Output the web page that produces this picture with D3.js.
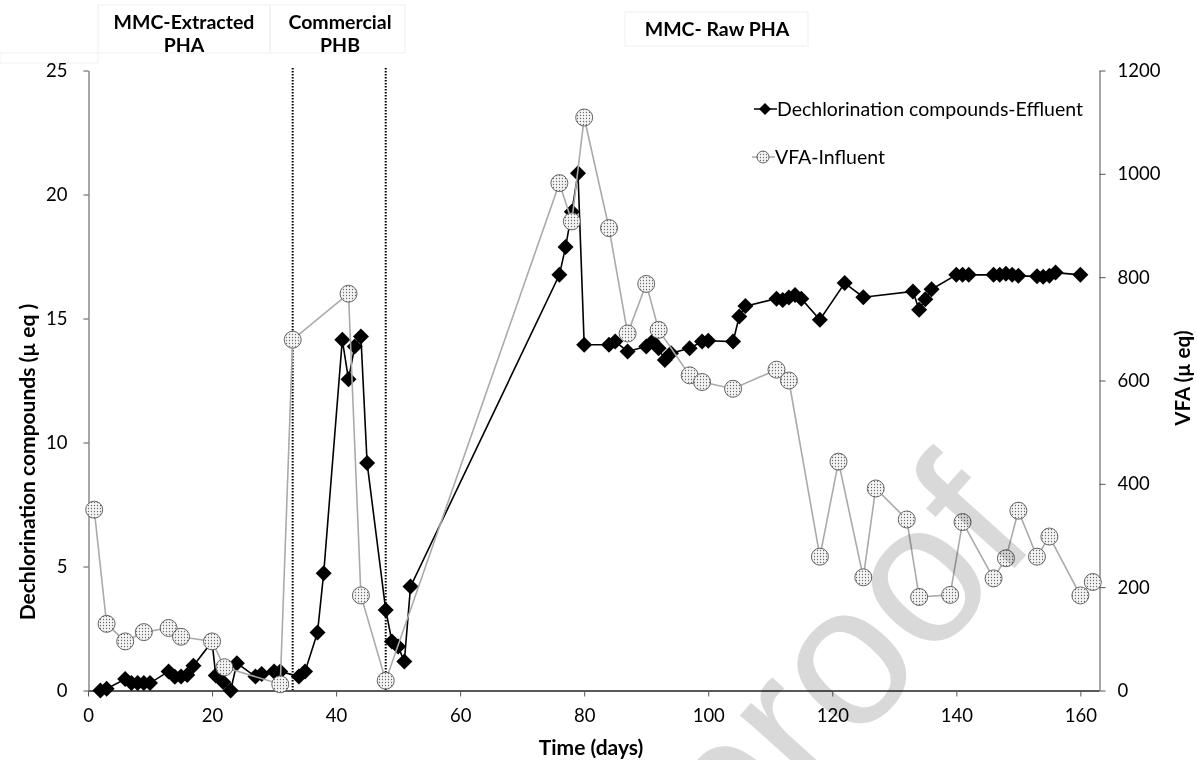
<!DOCTYPE html>
<html>
<head>
<meta charset="utf-8">
<script src="https://cdn.jsdelivr.net/npm/d3@7"></script>
<style>
  body { margin: 0; background: #fff; }
  svg { display: block; }
</style>
</head>
<body>
<svg id="chart" width="1197" height="760"></svg>
<script>
// Dechlorination compounds - effluent (left axis, µ eq)
var dechlorDays = [2, 3, 6, 7, 8, 9, 10, 13, 14, 15, 16, 17, 20, 20.6, 21.8, 23, 24, 27, 28, 30, 31,
  34, 35, 37, 38, 41, 42, 43, 44, 45, 48, 49, 50, 51, 52,
  76, 77, 78, 79, 80, 84, 85, 87, 90, 91, 92, 93, 94, 97, 99, 100, 104, 105, 106,
  111, 112, 113, 114, 115, 118, 122, 125, 133, 134, 135, 136,
  140, 141, 142, 146, 147, 148, 149, 150, 153, 154, 155, 156, 160];
var dechlorValues = [0, 0.07, 0.46, 0.3, 0.3, 0.3, 0.3, 0.77, 0.55, 0.56, 0.63, 1.0, 1.97, 0.6, 0.34, 0, 1.1, 0.56, 0.67, 0.77, 0.77,
  0.56, 0.77, 2.34, 4.73, 14.14, 12.55, 13.87, 14.27, 9.17, 3.25, 1.98, 1.77, 1.17, 4.19,
  16.76, 17.88, 19.3, 20.86, 13.94, 13.94, 14.07, 13.67, 13.87, 14.07, 13.8, 13.33, 13.6, 13.8, 14.07, 14.1, 14.07, 15.08, 15.5,
  15.8, 15.75, 15.85, 15.95, 15.8, 14.95, 16.43, 15.86, 16.09, 15.35, 15.78, 16.18,
  16.76, 16.76, 16.76, 16.76, 16.76, 16.8, 16.76, 16.72, 16.7, 16.68, 16.72, 16.85, 16.76];

// VFA - influent (right axis, µ eq)
var vfaDays = [1, 3, 6, 9, 13, 15, 20, 22, 31, 33, 42, 44, 48,
  76, 78, 80, 84, 87, 90, 92, 97, 99, 104, 111, 113,
  118, 121, 125, 127, 132, 134, 139, 141, 146, 148, 150, 153, 155, 160, 162];
var vfaValues = [350, 129, 95, 113, 121, 104, 95, 45, 12, 679, 768, 184, 19,
  982, 908, 1109, 895, 691, 787, 698, 610, 597, 584, 621, 600,
  259, 443, 219, 391, 331, 181, 185, 326, 217, 256, 348, 259, 298, 184, 210];

var xTicks = [0, 20, 40, 60, 80, 100, 120, 140, 160];
var leftTicks = [0, 5, 10, 15, 20, 25];
var rightTicks = [0, 200, 400, 600, 800, 1000, 1200];
var phaseDays = [33, 48];
var phaseLabels = [
  {lines: ['MMC-Extracted', 'PHA'], cx: 184, box: [98, 5, 172, 48]},
  {lines: ['Commercial', 'PHB'], cx: 340, box: [270, 5, 135, 48]},
  {lines: ['MMC- Raw PHA'], cx: 717, box: [625, 12, 183, 34]}
];
var legendNames = ['Dechlorination compounds-Effluent', 'VFA-Influent'];

var font = 'Lato, "Open Sans", sans-serif';
var svg = d3.select('#chart');

var defs = svg.append('defs');
var pat = defs.append('pattern').attr('id', 'dots')
  .attr('width', 3).attr('height', 3).attr('patternUnits', 'userSpaceOnUse');
pat.append('rect').attr('width', 3).attr('height', 3).attr('fill', '#f4f4f4');
pat.append('circle').attr('cx', 1.5).attr('cy', 1.5).attr('r', 0.65).attr('fill', '#6a6a6a');

var x = d3.scaleLinear().domain([0, 163]).range([88, 1099]);
var yL = d3.scaleLinear().domain([0, 25]).range([690.5, 70.5]);
var yR = d3.scaleLinear().domain([0, 1200]).range([690.5, 70.5]);

// phase label boxes (very faint)
svg.append('rect').attr('x', 0).attr('y', 53).attr('width', 98).attr('height', 10)
  .attr('fill', 'none').attr('stroke', '#f2f2f2');
phaseLabels.forEach(function(p) {
  svg.append('rect').attr('x', p.box[0]).attr('y', p.box[1])
    .attr('width', p.box[2]).attr('height', p.box[3])
    .attr('fill', 'none').attr('stroke', '#efefef');
  var t = svg.append('text').attr('text-anchor', 'middle')
    .attr('font-family', font).attr('font-weight', 'bold').attr('font-size', '19.5px').attr('fill', '#000');
  p.lines.forEach(function(l, i) {
    t.append('tspan').attr('x', p.cx).attr('y', (p.lines.length == 1 ? 36 : 29 + i * 23)).text(l);
  });
});

// axes
var xAxis = svg.append('g').attr('transform', 'translate(0,690.5)')
  .call(d3.axisBottom(x).tickValues(xTicks).tickSize(6).tickSizeOuter(0));
var lAxis = svg.append('g').attr('transform', 'translate(88.5,0)')
  .call(d3.axisLeft(yL).tickValues(leftTicks).tickSize(5).tickSizeOuter(0));
var rAxis = svg.append('g').attr('transform', 'translate(1099.5,0)')
  .call(d3.axisRight(yR).tickValues(rightTicks).tickFormat(d3.format('d')).tickSize(6).tickSizeOuter(0));
[xAxis, lAxis, rAxis].forEach(function(a) {
  a.selectAll('text').attr('font-family', font).attr('font-size', '18.5px').attr('fill', '#000');
});
xAxis.select('.domain').attr('stroke', '#222').attr('stroke-width', 1.3);
xAxis.selectAll('.tick line').attr('stroke', '#555');
xAxis.selectAll('text').attr('y', 15).attr('dy', '0.9em');
lAxis.select('.domain').attr('stroke', '#777').attr('stroke-width', 1.3);
lAxis.selectAll('.tick line').attr('stroke', '#555');
lAxis.selectAll('text').attr('x', -21);
rAxis.select('.domain').attr('stroke', '#777').attr('stroke-width', 1.3);
rAxis.selectAll('.tick line').attr('stroke', '#555');
rAxis.selectAll('text').attr('x', 18);

// phase dividers
svg.selectAll('.phase').data(phaseDays).enter().append('line')
  .attr('x1', d => x(d)).attr('x2', d => x(d)).attr('y1', 68).attr('y2', 690)
  .attr('stroke', '#000').attr('stroke-width', 2).attr('stroke-dasharray', '1.5,1.5');

// axis titles
svg.append('text').attr('transform', 'translate(35,462) rotate(-90)')
  .attr('text-anchor', 'middle').attr('font-family', font).attr('font-weight', 'bold').attr('font-size', '21px')
  .text('Dechlorination compounds (µ eq )');
svg.append('text').attr('transform', 'translate(1190,378) rotate(-90)')
  .attr('text-anchor', 'middle').attr('font-family', font).attr('font-weight', 'bold').attr('font-size', '20.5px')
  .text('VFA (µ eq)');
svg.append('text').attr('x', 591).attr('y', 755)
  .attr('text-anchor', 'middle').attr('font-family', font).attr('font-weight', 'bold').attr('font-size', '21px')
  .text('Time (days)');

// series
var dechlor = dechlorDays.map((d, i) => [d, dechlorValues[i]]);
var vfa = vfaDays.map((d, i) => [d, vfaValues[i]]);
var diamond = 'M0,-8L8,0L0,8L-8,0Z';

svg.append('path').datum(dechlor)
  .attr('d', d3.line().x(d => x(d[0])).y(d => yL(d[1])))
  .attr('fill', 'none').attr('stroke', '#000').attr('stroke-width', 1.6);
svg.selectAll('.dia').data(dechlor).enter().append('path')
  .attr('d', diamond).attr('transform', d => 'translate(' + x(d[0]) + ',' + yL(d[1]) + ')')
  .attr('fill', '#000');

svg.append('path').datum(vfa)
  .attr('d', d3.line().x(d => x(d[0])).y(d => yR(d[1])))
  .attr('fill', 'none').attr('stroke', '#aaa').attr('stroke-width', 1.6);
svg.selectAll('.circ').data(vfa).enter().append('circle')
  .attr('cx', d => x(d[0])).attr('cy', d => yR(d[1])).attr('r', 8.5)
  .attr('fill', 'url(#dots)').attr('stroke', '#555').attr('stroke-width', 0.9);

// legend
var lg = svg.append('g');
lg.append('line').attr('x1', 754).attr('x2', 777).attr('y1', 109).attr('y2', 109).attr('stroke', '#000').attr('stroke-width', 1.5);
lg.append('path').attr('d', 'M0,-6L6,0L0,6L-6,0Z').attr('transform', 'translate(765,109)').attr('fill', '#000');
lg.append('line').attr('x1', 752).attr('x2', 775).attr('y1', 157).attr('y2', 157).attr('stroke', '#999').attr('stroke-width', 1.3);
lg.append('circle').attr('cx', 763).attr('cy', 157).attr('r', 6)
  .attr('fill', 'url(#dots)').attr('stroke', '#555').attr('stroke-width', 0.9);
lg.selectAll('.lt').data(legendNames).enter().append('text')
  .attr('x', (d, i) => i == 0 ? 777 : 775).attr('y', (d, i) => 116 + i * 48)
  .attr('font-family', font).attr('font-size', '19.5px').attr('fill', '#000')
  .text(d => d);

// watermark
svg.append('text').attr('transform', 'translate(1040,540) rotate(-48)')
  .attr('text-anchor', 'end').attr('font-family', '"Liberation Sans", Arial, sans-serif')
  .attr('font-size', '200px').attr('fill', '#d9d9d9').style('mix-blend-mode', 'multiply')
  .text('Journal Pre-proof');
</script>
</body>
</html>
